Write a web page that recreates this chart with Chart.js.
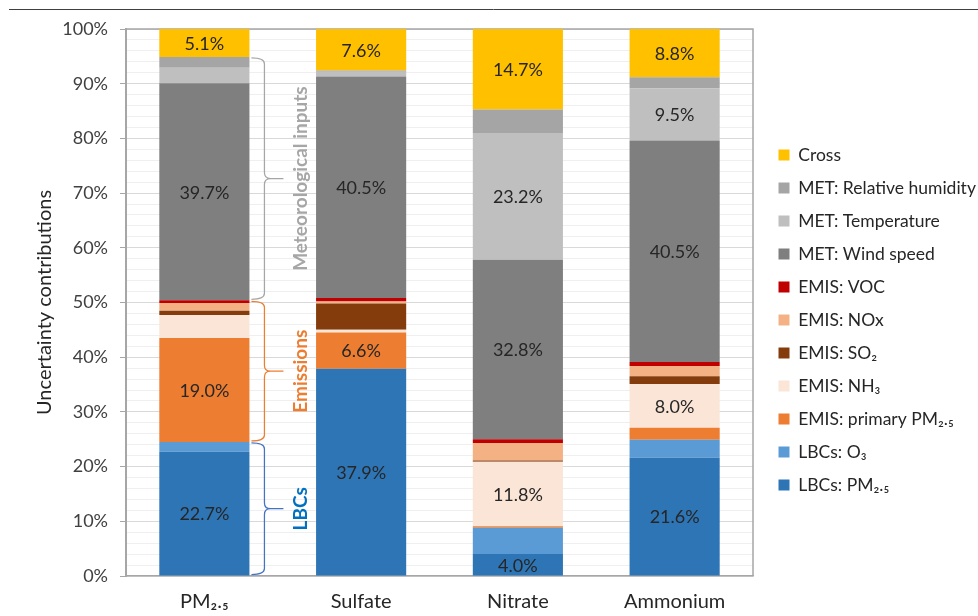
<!DOCTYPE html>
<html>
<head>
<meta charset="utf-8">
<script src="https://cdn.jsdelivr.net/npm/chart.js@4.4.1/dist/chart.umd.min.js"></script>
<style>
  html, body { margin: 0; padding: 0; background: #ffffff; overflow: hidden; }
  #wrap { position: relative; width: 978px; height: 616px; }
</style>
</head>
<body>
<div id="wrap"><canvas id="chart"></canvas></div>
<script>
// Species on the x axis
const categories = ['PM\u2082.\u2085', 'Sulfate', 'Nitrate', 'Ammonium'];

// Contribution of each input to the uncertainty (%), stacked bottom to top
const lbcPm25    = [22.7, 37.9,  4.0, 21.6];
const lbcO3      = [ 1.8,  0.0,  4.8,  3.3];
const emisPrimPm = [19.0,  6.6,  0.3,  2.2];
const emisNh3    = [ 4.2,  0.5, 11.8,  8.0];
const emisSo2    = [ 0.8,  4.8,  0.2,  1.4];
const emisNox    = [ 1.4,  0.4,  3.2,  1.9];
const emisVoc    = [ 0.5,  0.6,  0.7,  0.7];
const metWind    = [39.7, 40.5, 32.8, 40.5];
const metTemp    = [ 2.8,  0.9, 23.2,  9.5];
const metRh      = [ 2.0,  0.2,  4.3,  2.1];
const cross      = [ 5.1,  7.6, 14.7,  8.8];

// Which segments carry a value label (per category)
const labelPm25    = [true,  true,  true,  true];
const labelPrimPm  = [true,  true,  false, false];
const labelNh3     = [false, false, true,  true];
const labelWind    = [true,  true,  true,  true];
const labelTemp    = [false, false, true,  true];
const labelCross   = [true,  true,  true,  true];
const labelNone    = [false, false, false, false];

// y axis tick labels every 10 %, light minor lines every 2 %
const yTickLabels = ['0%', '10%', '20%', '30%', '40%', '50%', '60%', '70%', '80%', '90%', '100%'];

const FONT = "Lato, 'Noto Sans', 'DejaVu Sans', sans-serif";

const series = [
  { label: 'LBCs: PM\u2082.\u2085',        data: lbcPm25,    color: '#2E75B6', shown: labelPm25 },
  { label: 'LBCs: O\u2083',                data: lbcO3,      color: '#5B9BD5', shown: labelNone },
  { label: 'EMIS: primary PM\u2082.\u2085', data: emisPrimPm, color: '#ED7D31', shown: labelPrimPm },
  { label: 'EMIS: NH\u2083',               data: emisNh3,    color: '#FBE5D6', shown: labelNh3 },
  { label: 'EMIS: SO\u2082',               data: emisSo2,    color: '#843C0C', shown: labelNone },
  { label: 'EMIS: NOx',                    data: emisNox,    color: '#F4B183', shown: labelNone },
  { label: 'EMIS: VOC',                    data: emisVoc,    color: '#C00000', shown: labelNone },
  { label: 'MET: Wind speed',              data: metWind,    color: '#7F7F7F', shown: labelWind },
  { label: 'MET: Temperature',             data: metTemp,    color: '#BFBFBF', shown: labelTemp },
  { label: 'MET: Relative humidity',       data: metRh,      color: '#A5A5A5', shown: labelNone },
  { label: 'Cross',                        data: cross,      color: '#FFC000', shown: labelCross }
];

// Group brackets beside the first column
const groups = [
  { name: 'LBCs',                  from: 0, to: 1, color: '#4472C4', text: '#0070C0' },
  { name: 'Emissions',             from: 2, to: 6, color: '#ED7D31', text: '#ED7D31' },
  { name: 'Meteorological inputs', from: 7, to: 9, color: '#A6A6A6', text: '#A6A6A6' }
];

function drawBrace(ctx, x0, yTop, yBot, color) {
  const xm = x0 + 13, xt = x0 + 32, r = 6;
  const yMid = (yTop + yBot) / 2;
  ctx.save();
  ctx.strokeStyle = color;
  ctx.lineWidth = 1.25;
  ctx.beginPath();
  ctx.moveTo(x0, yTop);
  ctx.quadraticCurveTo(xm, yTop, xm, yTop + r);
  ctx.lineTo(xm, yMid - r);
  ctx.quadraticCurveTo(xm, yMid, xm + r, yMid);
  ctx.lineTo(xt, yMid);
  ctx.moveTo(xm + r, yMid);
  ctx.quadraticCurveTo(xm, yMid, xm, yMid + r);
  ctx.lineTo(xm, yBot - r);
  ctx.quadraticCurveTo(xm, yBot, x0, yBot);
  ctx.stroke();
  ctx.restore();
  return { xt, yMid };
}

const decorations = {
  id: 'decorations',
  beforeDraw(chart) {
    const { ctx } = chart;
    ctx.save();
    ctx.strokeStyle = '#404040';
    ctx.lineWidth = 1;
    ctx.beginPath();
    ctx.moveTo(9, 9.5);
    ctx.lineTo(chart.width, 9.5);
    ctx.stroke();
    ctx.restore();
  },
  beforeDatasetsDraw(chart) {
    const { ctx, chartArea: a } = chart;
    ctx.save();
    ctx.strokeStyle = '#A6A6A6';
    ctx.lineWidth = 1.5;
    ctx.beginPath();
    ctx.moveTo(a.left, a.top);
    ctx.lineTo(a.right, a.top);
    ctx.lineTo(a.right, a.bottom);
    ctx.stroke();
    ctx.restore();
  },
  afterDatasetsDraw(chart) {
    const { ctx } = chart;
    // value labels in the middle of their segments
    ctx.save();
    ctx.font = '18px ' + FONT;
    ctx.fillStyle = '#262626';
    ctx.textAlign = 'center';
    ctx.textBaseline = 'middle';
    series.forEach((s, i) => {
      const meta = chart.getDatasetMeta(i);
      meta.data.forEach((el, j) => {
        if (!s.shown[j]) return;
        ctx.fillText(s.data[j].toFixed(1) + '%', el.x, (el.y + el.base) / 2 + 1);
      });
    });
    ctx.restore();

    // brackets and group names next to the first column
    const first = chart.getDatasetMeta(0).data[0];
    const x0 = first.x + first.width / 2 + 2;
    groups.forEach(g => {
      const lo = chart.getDatasetMeta(g.from).data[0];
      const hi = chart.getDatasetMeta(g.to).data[0];
      const yBot = lo.base - 1;
      const yTop = hi.y + 1;
      const b = drawBrace(ctx, x0, yTop, yBot, g.color);
      ctx.save();
      ctx.translate(b.xt + 17, b.yMid);
      ctx.rotate(-Math.PI / 2);
      ctx.font = 'bold 19px ' + FONT;
      ctx.fillStyle = g.text;
      ctx.textAlign = 'center';
      ctx.textBaseline = 'middle';
      ctx.fillText(g.name, 0, 0);
      ctx.restore();
    });
  }
};

// leave a small gap between the plot frame and the legend, legend runs to the page edge
const legendPlacement = {
  id: 'legendPlacement',
  afterLayout(chart) {
    const lg = chart.legend;
    if (lg) {
      lg.left = chart.chartArea.right + 10;
      lg.right = chart.width;
      lg.width = lg.right - lg.left;
    }
  }
};

new Chart(document.getElementById('chart'), {
  type: 'bar',
  data: {
    labels: categories,
    datasets: series.map(s => ({
      label: s.label,
      data: s.data,
      backgroundColor: s.color,
      borderWidth: 0,
      barPercentage: 0.575,
      categoryPercentage: 1.0
    }))
  },
  options: {
    responsive: true,
    maintainAspectRatio: false,
    devicePixelRatio: 1,
    animation: false,
    layout: { padding: { top: 29, bottom: 5, left: 0, right: 35 } },
    plugins: {
      tooltip: { enabled: false },
      legend: {
        position: 'right',
        align: 'center',
        reverse: true,
        maxWidth: 190,
        labels: {
          boxWidth: 11,
          boxHeight: 11,
          padding: 15.5,
          color: '#262626',
          font: { family: FONT, size: 17.5 }
        }
      }
    },
    scales: {
      x: {
        stacked: true,
        grid: { display: false, drawTicks: false },
        border: { display: true, color: '#A6A6A6', width: 1.5 },
        ticks: { color: '#262626', padding: 14, font: { family: FONT, size: 20 } },
        afterFit(scale) { scale.height = 35; }
      },
      y: {
        stacked: true,
        min: 0,
        max: 100,
        border: { display: true, color: '#A6A6A6', width: 2 },
        grid: {
          color: c => (Math.round(c.tick.value) % 10 === 0 ? '#D9D9D9' : '#EFEFEF'),
          tickColor: c => (Math.round(c.tick.value) % 10 === 0 ? '#A6A6A6' : 'rgba(0,0,0,0)'),
          tickLength: 6,
          lineWidth: 1
        },
        ticks: {
          stepSize: 2,
          autoSkip: false,
          padding: 12,
          color: '#404040',
          font: { family: FONT, size: 18 },
          callback: v => (Math.round(v) % 10 === 0 ? yTickLabels[Math.round(v) / 10] : '')
        },
        title: {
          display: true,
          text: 'Uncertainty contributions',
          color: '#262626',
          font: { family: FONT, size: 20 },
          padding: { top: 33, bottom: 0 }
        },
        afterFit(scale) { scale.width = 126; }
      }
    }
  },
  plugins: [decorations, legendPlacement]
});
</script>
</body>
</html>
